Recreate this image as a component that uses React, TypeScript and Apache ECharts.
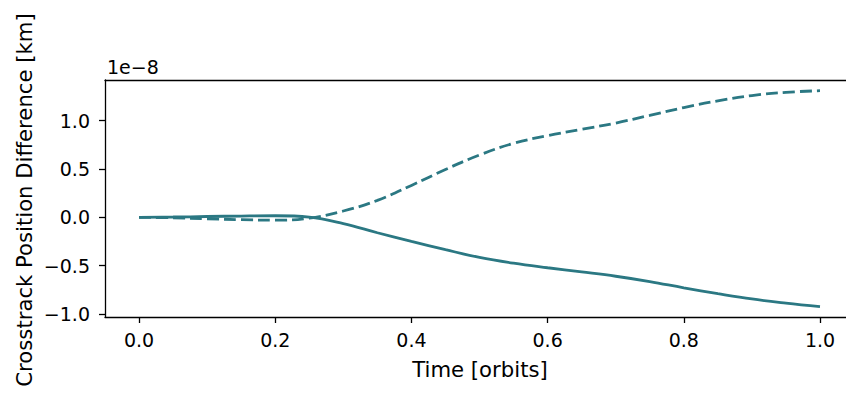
import React, { useEffect, useRef } from "react";
import * as echarts from "echarts";

const timeOrbits = [0, 0.05, 0.1, 0.15, 0.2, 0.25, 0.3, 0.35, 0.4, 0.45, 0.5, 0.55, 0.6, 0.65, 0.7, 0.75, 0.8, 0.85, 0.9, 0.95, 1.0];
const solidDiff = [0, 0.003, 0.008, 0.013, 0.016, 0.002, -0.065, -0.16, -0.25, -0.335, -0.415, -0.475, -0.522, -0.565, -0.61, -0.665, -0.73, -0.79, -0.845, -0.888, -0.925];
const dashedDiff = [0, -0.005, -0.015, -0.025, -0.03, -0.008, 0.065, 0.175, 0.33, 0.495, 0.645, 0.765, 0.845, 0.91, 0.975, 1.055, 1.135, 1.205, 1.26, 1.293, 1.31];
const xTicks = [0, 0.2, 0.4, 0.6, 0.8, 1.0];
const yTicks = [-1.0, -0.5, 0, 0.5, 1.0];

const COLOR = "#2b7883";
const FONT = "DejaVu Sans";
const TICK_FS = 19;
const LABEL_FS = 21.2;

const fmt = (v: number) => (v < 0 ? "\u2212" + Math.abs(v).toFixed(1) : v.toFixed(1));

export default function App() {
  const ref = useRef<HTMLDivElement>(null);
  useEffect(() => {
    document.body.style.margin = "0";
    const chart = echarts.init(ref.current!, null, { renderer: "svg" });
    const xMin = -0.05, xMax = 1.0382, yMin = -1.0316, yMax = 1.4206;
    chart.setOption({
      animation: false,
      backgroundColor: "#ffffff",
      textStyle: { fontFamily: FONT },
      grid: { left: 105, right: 0, top: 80, bottom: 76, show: false },
      xAxis: [
        {
          type: "value",
          min: xMin,
          max: xMax,
          position: "bottom",
          axisLine: { show: true, onZero: false, lineStyle: { color: "#000", width: 1.3 } },
          axisTick: { show: true, customValues: xTicks, length: 6, inside: false, lineStyle: { color: "#000", width: 1.3 } },
          axisLabel: { customValues: xTicks, formatter: fmt, fontSize: TICK_FS, color: "#000", fontFamily: FONT, margin: 13 },
          splitLine: { show: false },
        },
        {
          type: "value",
          min: xMin,
          max: xMax,
          position: "top",
          axisLine: { show: true, onZero: false, lineStyle: { color: "#000", width: 1.3 } },
          axisTick: { show: false },
          axisLabel: { show: false },
          splitLine: { show: false },
        },
      ],
      yAxis: {
        type: "value",
        min: yMin,
        max: yMax,
        axisLine: { show: true, onZero: false, lineStyle: { color: "#000", width: 1.3 } },
        axisTick: { show: true, customValues: yTicks, length: 6, inside: false, lineStyle: { color: "#000", width: 1.3 } },
        axisLabel: { customValues: yTicks, formatter: fmt, fontSize: TICK_FS, color: "#000", fontFamily: FONT, margin: 15 },
        splitLine: { show: false },
      },
      series: [
        {
          type: "line",
          data: timeOrbits.map((t, i) => [t, solidDiff[i]]),
          showSymbol: false,
          smooth: 0.4,
          lineStyle: { color: COLOR, width: 2.8, type: "solid" },
          z: 3,
        },
        {
          type: "line",
          data: timeOrbits.map((t, i) => [t, dashedDiff[i]]),
          showSymbol: false,
          smooth: 0.4,
          lineStyle: { color: COLOR, width: 2.8, type: [12, 5] },
          z: 3,
        },
      ],
      graphic: [
        { type: "text", x: 107, y: 67, style: { text: "1e\u22128", fontSize: TICK_FS, fontFamily: FONT, fill: "#000", textAlign: "left", textVerticalAlign: "middle" } },
        { type: "text", x: 480, y: 369, style: { text: "Time [orbits]", fontSize: LABEL_FS, fontFamily: FONT, fill: "#000", textAlign: "center", textVerticalAlign: "middle" } },
        { type: "text", x: 24, y: 200, rotation: Math.PI / 2, style: { text: "Crosstrack Position Difference [km]", fontSize: LABEL_FS, fontFamily: FONT, fill: "#000", textAlign: "center", textVerticalAlign: "middle" } },
      ],
    });
    return () => chart.dispose();
  }, []);
  return <div ref={ref} style={{ position: "absolute", left: 0, top: 0, width: 846, height: 393 }} />;
}
